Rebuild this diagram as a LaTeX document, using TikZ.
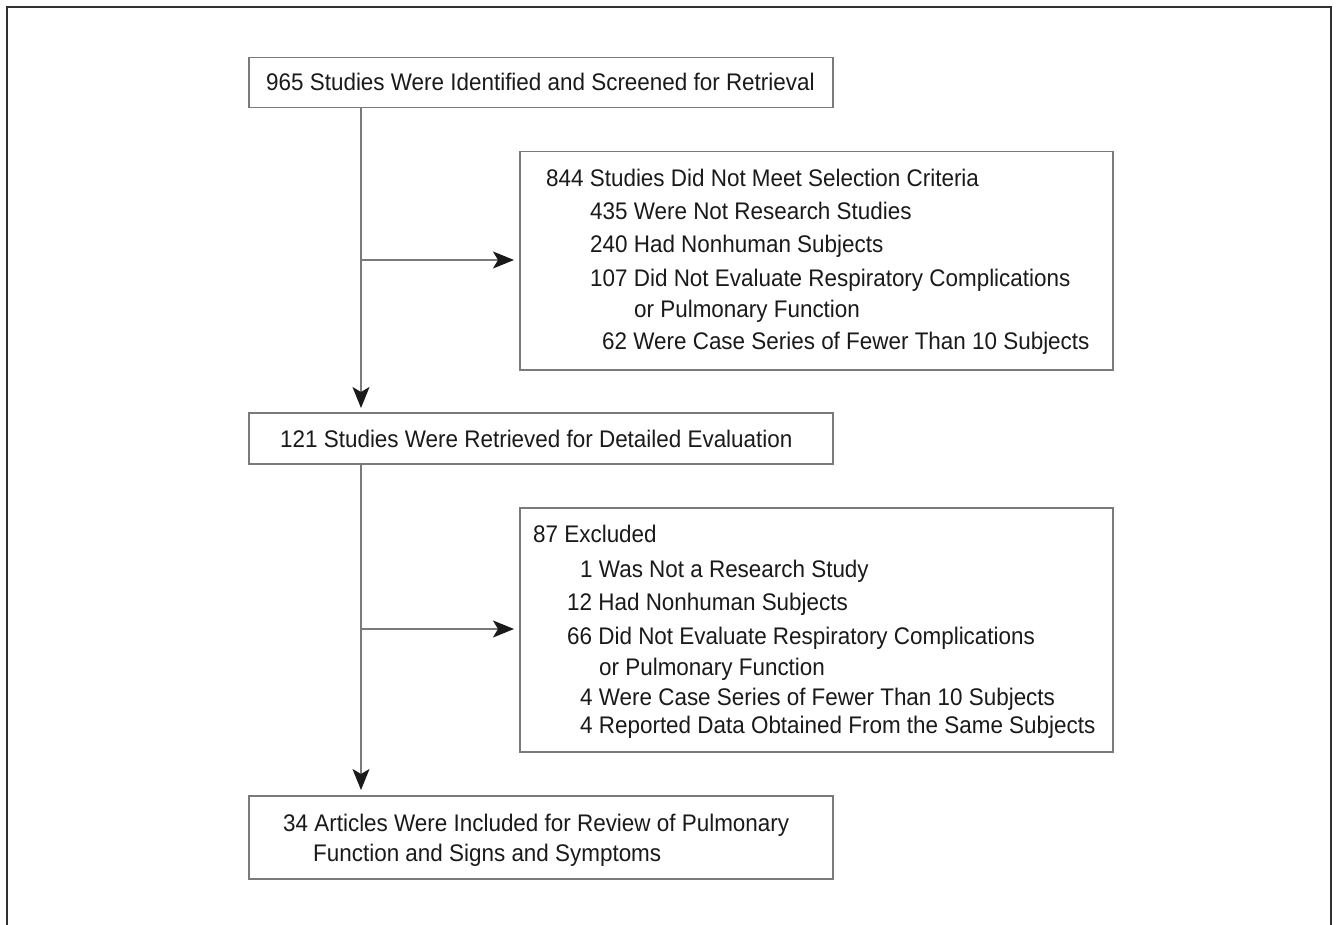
\documentclass[tikz,border=0pt]{standalone}
\usepackage{fontspec}
\setmainfont{Liberation Sans}[FakeStretch=0.935]
\usepackage{xcolor}
\usepackage{tikz}
\usetikzlibrary{positioning, arrows.meta}

\definecolor{boxline}{HTML}{7A7A7A}
\definecolor{inkdark}{HTML}{1A1A1A}

\begin{document}
\begin{tikzpicture}[x=1pt, y=-1pt, font=\fontsize{24}{28}\selectfont, text=inkdark,
        panel/.style={draw=boxline, line width=1.5pt, fill=white, anchor=north west,
                      inner sep=0pt, minimum width=#1},
        line/.style={anchor=base west, inner sep=0pt},
        flow/.style={draw=boxline, line width=1.5pt,
                     -{Stealth[length=21pt, width=17pt, inset=5pt, color=inkdark]}}]
      \useasboundingbox (0,0) rectangle (1339,925);
      \draw[line width=2.5pt, draw=inkdark!90] (7,925) -- (7,7) -- (1331,7) -- (1331,925);

      % boxes
      \node[panel=584pt, minimum height=50pt] (screened) at (248,57) {};
      \node[panel=593pt, minimum height=218pt] (criteria) at (519,151) {};
      \node[panel=584pt, minimum height=51pt] (retrieved) at (248,412) {};
      \node[panel=593pt, minimum height=244pt] (excluded) at (519,507) {};
      \node[panel=584pt, minimum height=83pt] (included) at (248,795) {};

      % texts
      \node[line] (t1) at (266,91) {965 Studies Were Identified and Screened for Retrieval};

      \node[line] (c1) at (546,187) {844 Studies Did Not Meet Selection Criteria};
      \node[line] (c2) at (590,220) {435 Were Not Research Studies};
      \node[line] (c3) at (590,253) {240 Had Nonhuman Subjects};
      \node[line] (c4) at (590,287) {107 Did Not Evaluate Respiratory Complications};
      \node[line] (c5) at (634,318) {or Pulmonary Function};
      \node[line] (c6) at (602,349) {62 Were Case Series of Fewer Than 10 Subjects};

      \node[line] (t2) at (280,447) {121 Studies Were Retrieved for Detailed Evaluation};

      \node[line] (e1) at (533,542) {87 Excluded};
      \node[line] (e2) at (580,577) {1 Was Not a Research Study};
      \node[line] (e3) at (567,610) {12 Had Nonhuman Subjects};
      \node[line] (e4) at (567,644) {66 Did Not Evaluate Respiratory Complications};
      \node[line] (e5) at (599,675) {or Pulmonary Function};
      \node[line] (e6) at (580,705) {4 Were Case Series of Fewer Than 10 Subjects};
      \node[line] (e7) at (580,733) {4 Reported Data Obtained From the Same Subjects};

      \node[line] (t3) at (283,831) {34 Articles Were Included for Review of Pulmonary};
      \node[line] (t4) at (313,861) {Function and Signs and Symptoms};

      % connectors
      \coordinate (spine) at (361,0);
      \coordinate (fork1) at (361,260);
      \coordinate (fork2) at (361,629);
      \draw[flow, shorten >=4pt] (screened.south -| spine) -- (retrieved.north -| spine);
      \draw[flow, shorten >=5pt] (fork1) -- (fork1 -| criteria.west);
      \draw[flow, shorten >=5pt] (retrieved.south -| spine) -- (included.north -| spine);
      \draw[flow, shorten >=5pt] (fork2) -- (fork2 -| excluded.west);
    \end{tikzpicture}
\end{document}
